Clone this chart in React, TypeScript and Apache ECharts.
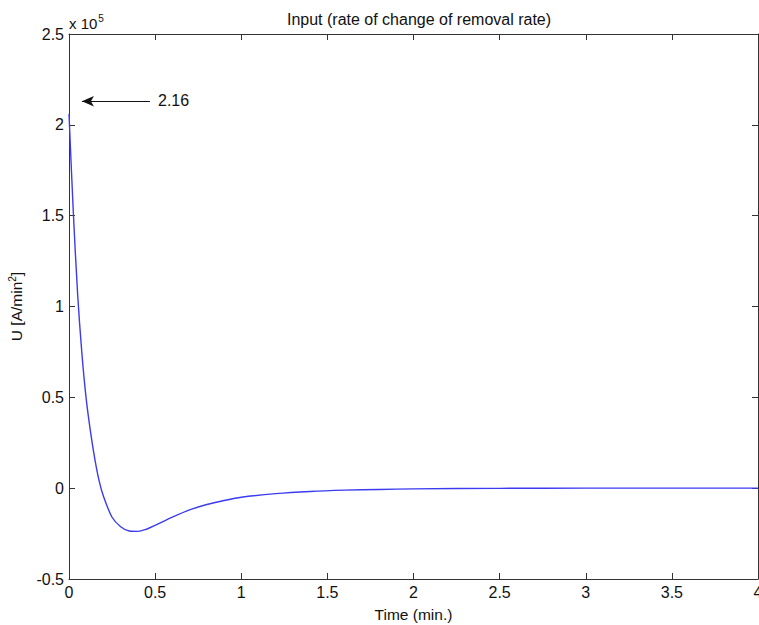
import React, { useEffect, useRef } from "react";
import * as echarts from "echarts";

const timeValues = [0, 0.025, 0.05, 0.075, 0.1, 0.125, 0.15, 0.175, 0.2, 0.25, 0.3, 0.35, 0.4, 0.45, 0.5, 0.6, 0.7, 0.8, 0.9, 1.0, 1.2, 1.4, 1.6, 1.8, 2.0, 2.5, 3.0, 3.5, 4.0];
const uValues = [2.06, 1.52, 1.07, 0.74, 0.49, 0.31, 0.16, 0.04, -0.045, -0.16, -0.212, -0.236, -0.238, -0.226, -0.205, -0.16, -0.12, -0.09, -0.068, -0.05, -0.03, -0.018, -0.011, -0.007, -0.004, -0.001, 0, 0, 0];
const xTicks = ["0", "0.5", "1", "1.5", "2", "2.5", "3", "3.5", "4"];
const yTicks = ["-0.5", "0", "0.5", "1", "1.5", "2", "2.5"];
const arrowStart = [0.47, 2.13];
const arrowEnd = [0.075, 2.13];
const annotationText = "2.16";

const FONT = "Liberation Sans, Arial, Helvetica, sans-serif";
const AXIS_COLOR = "#333";

export default function App() {
  const ref = useRef<HTMLDivElement>(null);
  useEffect(() => {
    if (!ref.current) return;
    const chart = echarts.init(ref.current, null, { renderer: "svg" });
    const data = timeValues.map((t, i) => [t, uValues[i]]);
    const axisCommon = {
      axisLine: { show: true, onZero: false, lineStyle: { color: AXIS_COLOR, width: 1 } },
      axisTick: { show: true, inside: true, length: 6, lineStyle: { color: AXIS_COLOR } },
      splitLine: { show: false },
    };
    chart.setOption({
      animation: false,
      backgroundColor: "#fff",
      textStyle: { fontFamily: FONT },
      title: {
        text: "Input (rate of change of removal rate)",
        left: 414,
        textAlign: "center",
        top: 6,
        textStyle: { fontSize: 16, fontWeight: "normal", color: "#111", fontFamily: FONT },
      },
      grid: { left: 69, top: 34, right: 1, bottom: 46, containLabel: false, outerBoundsMode: "none" },
      xAxis: [
        {
          type: "value",
          min: 0,
          max: 4,
          interval: 0.5,
          position: "bottom",
          ...axisCommon,
          axisLabel: {
            show: true,
            color: "#111",
            fontSize: 16,
            margin: 5,
            fontFamily: FONT,
            formatter: (v: number) => xTicks[Math.round(v / 0.5)] ?? "",
          },
          name: "Time (min.)",
          nameLocation: "middle",
          nameGap: 27,
          nameTextStyle: { fontSize: 15.5, color: "#111", fontFamily: FONT },
        },
        {
          type: "value",
          min: 0,
          max: 4,
          interval: 0.5,
          position: "top",
          ...axisCommon,
          axisLabel: { show: false },
        },
      ],
      yAxis: [
        {
          type: "value",
          min: -0.5,
          max: 2.5,
          interval: 0.5,
          position: "left",
          ...axisCommon,
          axisLabel: {
            show: true,
            color: "#111",
            fontSize: 16,
            margin: 5,
            fontFamily: FONT,
            formatter: (v: number) => yTicks[Math.round((v + 0.5) / 0.5)] ?? "",
          },
          name: "U [A/min{s|2}]",
          nameLocation: "middle",
          nameRotate: 90,
          nameGap: 44,
          nameTextStyle: {
            fontSize: 15.5,
            color: "#111",
            fontFamily: FONT,
            rich: { s: { fontSize: 10, verticalAlign: "top", padding: [0, 0, 8, 0], color: "#111", fontFamily: FONT } },
          },
        },
        {
          type: "value",
          min: -0.5,
          max: 2.5,
          interval: 0.5,
          position: "right",
          ...axisCommon,
          axisLabel: { show: false },
        },
      ],
      series: [
        {
          type: "line",
          data,
          xAxisIndex: 0,
          yAxisIndex: 0,
          smooth: 0.3,
          showSymbol: false,
          symbol: "none",
          lineStyle: { color: "#3b3bf0", width: 1.4 },
          markLine: {
            silent: true,
            symbol: ["none", "triangle"],
            symbolSize: [8, 12],
            label: { show: false },
            lineStyle: { color: "#111", width: 1.2, type: "solid" },
            data: [
              [
                { coord: arrowStart, symbol: "none" },
                { coord: arrowEnd, symbol: "arrow" },
              ],
            ],
          },
        },
      ],
      graphic: [
        {
          type: "text",
          x: 158,
          y: 100,
          style: {
            text: annotationText,
            fontSize: 16,
            fill: "#111",
            fontFamily: FONT,
            verticalAlign: "middle",
          },
        },
        {
          type: "text",
          x: 69,
          y: 23,
          style: {
            text: "x 10{s|5}",
            fontSize: 15,
            fill: "#111",
            fontFamily: FONT,
            verticalAlign: "middle",
            rich: {
              s: { fontSize: 10, verticalAlign: "top", padding: [0, 0, 10, 1], fill: "#111", fontFamily: FONT },
            },
          },
        },
      ],
    });
    return () => chart.dispose();
  }, []);
  return <div ref={ref} style={{ width: 759, height: 625, position: "absolute", left: 0, top: 0 }} />;
}
